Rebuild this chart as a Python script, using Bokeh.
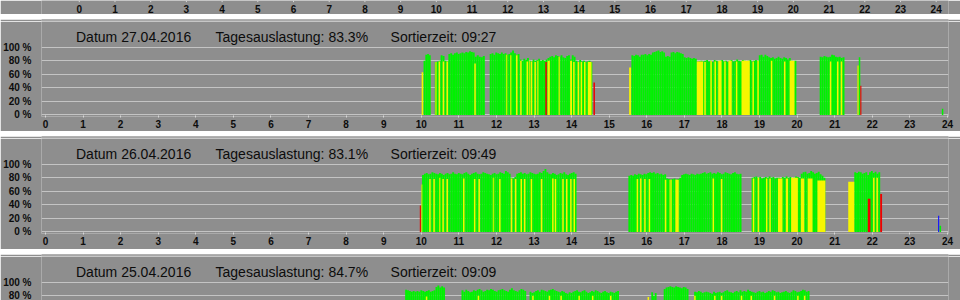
from bokeh.plotting import figure
from bokeh.layouts import column
from bokeh.models import Range1d, FixedTicker, ColumnDataSource, Label
from bokeh.embed import file_html
from bokeh.resources import INLINE
from bokeh.core.properties import value

# ---------------- data ----------------
HOURS = list(range(25))
PCT_TICKS = [0, 20, 40, 60, 80, 100]

DATES = ["27.04.2016", "26.04.2016", "25.04.2016"]
LOADS = ["83.3%", "83.1%", "84.7%"]
SORT_TIMES = ["09:27", "09:49", "09:09"]

# green runs: (start hour, end hour, bar tops in % across the run)
P1_GREEN = [
    (10.06, 10.25, [80, 89, 90, 88]),
    (10.36, 10.72, [78, 79, 80, 88, 87, 80, 79]),
    (10.72, 11.42, [90, 91, 89, 91, 92, 90, 91, 92, 91, 93, 92, 94, 93, 92]),
    (11.42, 11.69, [86, 88, 86, 85, 87]),
    (11.82, 14.55, [90, 91, 89, 92, 91, 90, 92, 90, 91, 89, 90, 92, 95, 91, 89, 90,
                    82, 80, 83, 81, 84, 80, 79, 82, 80, 81, 83, 80, 81,
                    80, 82, 84,
                    86, 87, 85, 88, 87, 86, 88, 85, 84, 87, 88,
                    82, 88, 86,
                    80, 78, 81, 79, 80, 78, 79, 80, 78]),
    (15.59, 17.33, [88, 87, 89, 88, 86, 89, 89, 90, 88, 90, 89,
                    92, 93, 94, 95, 93, 94, 92, 86, 87, 86,
                    92, 93, 91, 93, 92, 91, 90, 85, 84, 85, 84, 83, 84, 83]),
    (17.33, 19.98, [78, 79, 80, 79, 80, 81, 79, 80, 78, 81, 80, 79, 80, 81, 79, 80, 78,
                    80, 81, 79, 80, 82, 80, 79, 81, 80, 78, 80, 81, 79, 80, 81, 80,
                    88, 89, 86, 89, 87, 85,
                    84, 85, 83, 84, 86, 84, 83, 85, 84, 82, 84, 80, 79, 80]),
    (20.60, 21.26, [86, 85, 87, 86, 85, 86, 89, 88, 86, 85, 86, 84, 85]),
    (21.64, 21.68, [85]),
    (23.85, 23.89, [9]),
]
P1_YELLOW = [
    (10.01, 10.05, 63), (10.46, 10.50, 79), (10.57, 10.61, 79), (10.67, 10.71, 79),
    (11.41, 11.45, 76), (12.52, 12.56, 88), (12.63, 12.67, 80), (12.80, 12.84, 79),
    (12.91, 12.95, 79), (13.01, 13.05, 78), (13.36, 13.42, 80), (13.96, 14.01, 80),
    (14.04, 14.08, 78), (14.16, 14.20, 78), (14.24, 14.28, 78), (14.33, 14.37, 78),
    (14.43, 14.53, 78), (15.53, 15.58, 70), (17.33, 17.50, 79), (17.53, 17.57, 78),
    (17.69, 17.73, 80), (17.80, 17.84, 79), (17.90, 17.99, 80), (18.06, 18.10, 79),
    (18.17, 18.26, 80), (18.37, 18.41, 79), (18.52, 18.74, 80), (18.81, 18.85, 79),
    (18.94, 18.98, 80), (19.30, 19.34, 80), (19.65, 19.69, 79), (19.80, 19.93, 80),
    (20.87, 20.91, 79), (21.06, 21.10, 79), (21.16, 21.20, 79),
]
P1_LIGHT = [(10.37, 10.41, 78), (12.25, 12.29, 89), (12.36, 12.40, 88), (12.86, 12.89, 80),
            (13.08, 13.12, 80), (13.65, 13.69, 86), (21.60, 21.64, 73)]
P1_RED = [(13.30, 13.34, 78), (14.58, 14.62, 48), (21.68, 21.71, 43)]
P1_BLUE = []

P2_GREEN = [
    (10.02, 14.13, [84, 86, 87, 85, 86, 88, 87, 86, 85, 87,
                    86, 84, 86, 87, 85, 86, 88, 86, 85, 87,
                    86, 85, 87, 88, 86, 84, 86, 87, 88, 86,
                    85, 86, 88, 87, 86, 85, 84, 86, 87, 85,
                    86, 88, 87, 86, 90, 88, 86, 80, 79, 81,
                    86, 87, 88, 86, 87, 85, 86, 88, 87, 86,
                    85, 86, 88, 87, 90, 93, 88, 86, 85, 87,
                    86, 84, 85, 87, 86, 88, 85, 84, 86, 87, 88, 86]),
    (15.51, 18.52, [83, 84, 83, 85, 84, 86, 85, 84, 86, 85,
                    87, 88, 87, 88, 86, 87, 85, 86, 84, 85,
                    79, 78, 77, 78, 79, 77, 78, 80,
                    84, 85, 86, 85, 84, 86, 85, 84, 86, 85, 86, 87,
                    88, 86, 87, 88, 86, 87, 86, 88, 87, 85, 86, 88, 87, 86, 85, 87, 88, 86, 85, 86]),
    (18.79, 20.75, [80, 81, 82, 80, 81, 79, 80, 81, 80, 82, 80, 81, 79, 80,
                    80, 79, 81, 80, 82, 80, 81, 79, 80, 82, 81, 80,
                    86, 88, 89, 86, 87, 90, 88, 86, 87, 89, 85, 83, 80]),
    (21.52, 22.21, [88, 87, 89, 88, 86, 87, 88, 84, 88, 90, 87, 89, 86, 88]),
    (23.79, 23.83, [9]),
]
P2_YELLOW = [
    (10.21, 10.25, 78), (10.32, 10.36, 78), (10.56, 10.60, 78), (10.67, 10.71, 78),
    (11.11, 11.15, 79), (11.40, 11.44, 78), (11.52, 11.56, 78), (12.07, 12.11, 78),
    (12.38, 12.42, 79), (12.49, 12.53, 78), (12.64, 12.68, 78), (12.73, 12.77, 78),
    (12.91, 12.95, 78), (13.18, 13.22, 78), (13.48, 13.52, 79), (13.55, 13.59, 78),
    (13.75, 13.79, 78), (13.85, 13.89, 78), (13.96, 14.00, 78), (14.05, 14.09, 78),
    (15.73, 15.77, 78), (15.82, 15.86, 79), (15.93, 15.97, 78), (16.05, 16.09, 78),
    (16.48, 16.52, 77), (16.76, 16.85, 77), (17.75, 17.79, 79), (17.97, 18.01, 78),
    (18.82, 18.86, 79), (18.95, 18.99, 80), (19.17, 19.21, 79), (19.26, 19.30, 79),
    (19.49, 19.61, 79), (19.70, 19.76, 79), (19.84, 20.02, 80), (20.10, 20.19, 79),
    (20.28, 20.41, 79), (20.54, 20.75, 76), (21.36, 21.52, 74), (22.02, 22.06, 80),
    (22.11, 22.15, 80),
]
P2_LIGHT = [(10.00, 10.03, 70), (10.47, 10.51, 80), (11.90, 11.94, 80), (16.60, 16.67, 77)]
P2_RED = [(9.96, 9.99, 39), (21.88, 21.95, 49), (22.21, 22.26, 56)]
P2_BLUE = [(23.75, 23.78, 24)]

P3_GREEN = [
    (9.57, 10.63, [89, 88, 87, 86, 87, 86, 87, 86, 88, 87, 86, 87, 88, 86, 87, 88, 93, 95, 92, 94, 92]),
    (11.07, 12.79, [88, 86, 89, 87, 85, 86, 88, 87, 89, 90, 88, 86, 87, 89, 88, 90, 89,
                    87, 86, 88, 89, 90, 88, 87, 86, 89, 91, 88, 87, 86, 88, 90, 89, 87]),
    (12.88, 15.26, [86, 84, 85, 87, 88, 86, 89, 88, 87, 86, 88, 89, 90, 88, 87, 86, 85, 87,
                    86, 84, 83, 85, 84, 86, 87, 88, 86, 85, 87, 88, 86, 84, 85, 87, 86, 88,
                    87, 85, 84, 86, 87, 85, 84, 86, 85, 84, 86, 87]),
    (16.12, 16.26, [85, 80, 84]),
    (16.45, 17.11, [90, 92, 93, 94, 93, 92, 94, 93, 92, 91, 93, 92, 90]),
    (17.26, 20.33, [86, 85, 87, 86, 84, 85, 86, 85, 84, 83, 86, 84, 85, 86, 84, 85, 87, 88, 86,
                    85, 84, 86, 87, 85, 88, 86, 87, 86, 89, 87, 86, 85, 84, 86, 87, 85, 86, 84,
                    85, 87, 86, 88, 87, 85, 86, 84, 85, 86, 87, 85, 84, 86, 88, 87, 85, 86, 87,
                    89, 88, 86, 87]),
]
P3_YELLOW = [
    (10.12, 10.16, 79), (11.50, 11.54, 80), (12.95, 12.99, 80), (13.39, 13.43, 80),
    (13.70, 13.74, 80), (14.18, 14.22, 80), (14.54, 14.58, 80), (15.02, 15.06, 80),
    (16.02, 16.06, 78), (17.26, 17.30, 80), (17.79, 17.83, 80), (17.97, 18.01, 80),
    (18.50, 18.54, 80), (18.76, 18.80, 80), (19.38, 19.42, 80), (20.00, 20.04, 80),
    (20.18, 20.22, 80),
]
P3_LIGHT = []
P3_RED = []
P3_BLUE = []

# ---------------- style ----------------
BG = "#8e8e8e"
GRID = "#c4c4c4"
TICK = "#d8d8d8"
TXT = "#0c0c0c"
C_GREEN = "#00f200"
C_YELLOW = "#f6f600"
C_LIGHT = "#b8f000"
C_RED = "#ee0000"
C_BLUE = "#1414ff"
SEP_ROWS = ["#767676", "#cccccc", "#a2a2a2", "#a2a2a2", "#cacaca", "#6c6c6c", "#8e8e8e"]

PXH = 37.79          # px per hour
PXP = 0.6775         # px per percent
FRAME_L, FRAME_R = 36, 948
X0 = -(40 - FRAME_L) / PXH
X1 = 24 + (FRAME_R - 40 - 24 * PXH) / PXH
Y_TOP = 137.9
TITLE_X = [(70.7 - 40) / PXH, (211 - 40) / PXH, (387 - 40) / PXH]
TITLE_Y = 115.6


def base_fig(height, x_range, y_range, **kw):
    p = figure(width=960, height=height, x_range=x_range, y_range=y_range,
               output_backend="svg", toolbar_location=None,
               background_fill_color=BG, border_fill_color=BG,
               outline_line_color=None, **kw)
    p.xgrid.visible = False
    p.ygrid.visible = False
    return p


def separator():
    p = base_fig(7, Range1d(0, 1), Range1d(0, 7), min_border=0)
    p.axis.visible = False
    n = len(SEP_ROWS)
    src = ColumnDataSource(dict(left=[0] * n, right=[1] * n,
                                bottom=[n - 1 - i for i in range(n)],
                                top=[n - i for i in range(n)], color=SEP_ROWS))
    p.quad(left="left", right="right", bottom="bottom", top="top", color="color",
           line_color=None, source=src)
    return p


def bars_source(green, yellow, light, red, blue):
    d = dict(left=[], right=[], top=[], color=[])
    for start, end, tops in green:
        w = (end - start) / len(tops)
        for i, t in enumerate(tops):
            d["left"].append(start + i * w)
            d["right"].append(start + (i + 1) * w)
            d["top"].append(t)
            d["color"].append(C_GREEN)
    for lst, col in ((yellow, C_YELLOW), (light, C_LIGHT), (red, C_RED), (blue, C_BLUE)):
        for s, e, t in lst:
            d["left"].append(s)
            d["right"].append(e)
            d["top"].append(t)
            d["color"].append(col)
    d["bottom"] = [0] * len(d["left"])
    return ColumnDataSource(d)


def panel(height, frame_h, y_start, idx, green, yellow, light, red, blue, xaxis=True):
    p = base_fig(height, Range1d(X0, X1), Range1d(y_start, Y_TOP),
                 min_border_left=FRAME_L, min_border_right=960 - FRAME_R,
                 min_border_top=0, min_border_bottom=height - frame_h)
    p.ygrid.visible = True
    p.ygrid.ticker = FixedTicker(ticks=PCT_TICKS)
    p.ygrid.grid_line_color = GRID
    p.ygrid.grid_line_width = 1

    ya = p.yaxis[0]
    ya.ticker = FixedTicker(ticks=PCT_TICKS)
    ya.major_label_overrides = {t: f"{t} %" for t in PCT_TICKS}
    ya.axis_line_color = None
    ya.major_tick_line_color = None
    ya.minor_tick_line_color = None
    ya.major_label_standoff = 4
    ya.major_label_text_font = "Liberation Sans"
    ya.major_label_text_font_style = "bold"
    ya.major_label_text_font_size = "10px"
    ya.major_label_text_color = TXT

    xa = p.xaxis[0]
    if xaxis:
        xa.ticker = FixedTicker(ticks=HOURS)
        xa.axis_line_color = None
        xa.minor_tick_line_color = None
        xa.major_tick_line_color = TICK
        xa.major_tick_in = 1
        xa.major_tick_out = 1
        xa.major_label_standoff = 2
        xa.major_label_text_font = "Liberation Sans"
        xa.major_label_text_font_style = "bold"
        xa.major_label_text_font_size = "10px"
        xa.major_label_text_color = TXT
    else:
        xa.visible = False

    src = bars_source(green, yellow, light, red, blue)
    p.quad(left="left", right="right", bottom="bottom", top="top", color="color",
           line_color=None, source=src)

    texts = [f"Datum {DATES[idx]}", f"Tagesauslastung: {LOADS[idx]}",
             f"Sortierzeit: {SORT_TIMES[idx]}"]
    for tx, t in zip(TITLE_X, texts):
        p.add_layout(Label(x=tx, y=TITLE_Y, text=t, text_font="Liberation Sans",
                           text_font_size="14px", text_color=TXT,
                           text_baseline="alphabetic", text_align="left"))
    return p


# top partial panel (only its hour labels are visible)
p0 = base_fig(14, Range1d(-40 / PXH, (960 - 40) / PXH), Range1d(0, 14), min_border=0)
p0.axis.visible = False
p0.segment(x0=HOURS, y0=[14] * 25, x1=HOURS, y1=[12.4] * 25, line_color=TICK, line_width=1)
p0.text(x=HOURS, y=[5.6] * 25, text=[str(h) for h in HOURS], text_align="center",
        text_baseline="middle", text_font=value("Liberation Sans"), text_font_style="bold",
        text_font_size="10px", text_color=TXT)

y_start_full = -(116 - 114.45) / PXP
p1 = panel(110, 95, y_start_full, 0, P1_GREEN, P1_YELLOW, P1_LIGHT, P1_RED, P1_BLUE)
p2 = panel(111, 95, y_start_full, 1, P2_GREEN, P2_YELLOW, P2_LIGHT, P2_RED, P2_BLUE)
p3 = panel(44, 44, Y_TOP - 44 / PXP, 2, P3_GREEN, P3_YELLOW, P3_LIGHT, P3_RED, P3_BLUE,
           xaxis=False)

layout = column(p0, separator(), p1, separator(), p2, separator(), p3, spacing=0)

open("out.html", "w").write(file_html(layout, INLINE))
